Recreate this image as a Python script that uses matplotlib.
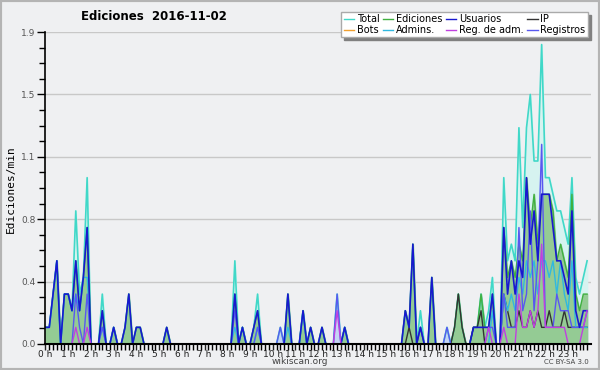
import numpy as np
import matplotlib
matplotlib.use("Agg")
import matplotlib.pyplot as plt
from matplotlib.patches import Rectangle

# ediciones por minuto, tramos de 10 minutos (12 valores = 2 horas por fila)
usuarios = [
    0.1, 0.1, 0.3, 0.5, 0, 0.3, 0.3, 0.2, 0.5, 0.2, 0.4, 0.7,
    0, 0, 0, 0.2, 0, 0, 0.1, 0, 0, 0.1, 0.3, 0,
    0.1, 0.1, 0, 0, 0, 0, 0, 0, 0.1, 0, 0, 0,
    0, 0, 0, 0, 0, 0, 0, 0, 0, 0, 0, 0,
    0, 0, 0.3, 0, 0.1, 0, 0, 0.1, 0.2, 0, 0, 0,
    0, 0, 0, 0, 0.3, 0, 0, 0, 0.2, 0, 0.1, 0,
    0, 0.1, 0, 0, 0, 0, 0, 0.1, 0, 0, 0, 0,
    0, 0, 0, 0, 0, 0, 0, 0, 0, 0, 0, 0.2,
    0.1, 0.6, 0, 0.1, 0, 0, 0.4, 0, 0, 0, 0, 0,
    0, 0, 0, 0, 0, 0.1, 0.1, 0.1, 0.1, 0.1, 0.3, 0,
    0, 0.7, 0.3, 0.5, 0.3, 0.5, 0.4, 1.0, 0.6, 0.8, 0.5, 0.9,
    0.9, 0.9, 0.7, 0.5, 0.5, 0.4, 0.3, 0.8, 0.2, 0.1, 0.2, 0.2,
]
ip = [
    0, 0, 0, 0, 0, 0, 0, 0, 0, 0, 0, 0,
    0, 0, 0, 0, 0, 0, 0, 0, 0, 0, 0, 0,
    0, 0, 0, 0, 0, 0, 0, 0, 0, 0, 0, 0,
    0, 0, 0, 0, 0, 0, 0, 0, 0, 0, 0, 0,
    0, 0, 0, 0, 0, 0, 0, 0, 0, 0, 0, 0,
    0, 0, 0, 0, 0, 0, 0, 0, 0, 0, 0, 0,
    0, 0, 0, 0, 0, 0, 0, 0, 0, 0, 0, 0,
    0, 0, 0, 0, 0, 0, 0, 0, 0, 0, 0, 0,
    0.1, 0, 0, 0, 0, 0, 0, 0, 0, 0, 0, 0,
    0.1, 0.3, 0.1, 0, 0, 0.1, 0.1, 0.2, 0, 0, 0, 0,
    0, 0.3, 0.2, 0.1, 0.1, 0.2, 0.1, 0.1, 0.2, 0.1, 0.2, 0.1,
    0.1, 0.2, 0.1, 0.1, 0.1, 0.2, 0.1, 0.1, 0.1, 0.1, 0.1, 0.1,
]
ediciones = [
    0.1, 0.1, 0.3, 0.5, 0, 0.3, 0.3, 0.2, 0.5, 0.2, 0.4, 0.7,
    0, 0, 0, 0.2, 0, 0, 0.1, 0, 0, 0.1, 0.3, 0,
    0.1, 0.1, 0, 0, 0, 0, 0, 0, 0.1, 0, 0, 0,
    0, 0, 0, 0, 0, 0, 0, 0, 0, 0, 0, 0,
    0, 0, 0.3, 0, 0.1, 0, 0, 0.1, 0.2, 0, 0, 0,
    0, 0, 0, 0, 0.3, 0, 0, 0, 0.2, 0, 0.1, 0,
    0, 0.1, 0, 0, 0, 0, 0, 0.1, 0, 0, 0, 0,
    0, 0, 0, 0, 0, 0, 0, 0, 0, 0, 0, 0.2,
    0.1, 0.6, 0, 0.1, 0, 0, 0.4, 0, 0, 0, 0, 0,
    0.1, 0.3, 0.1, 0, 0, 0.1, 0.1, 0.3, 0.1, 0.1, 0.3, 0,
    0, 0.7, 0.4, 0.5, 0.4, 0.6, 0.5, 1.0, 0.7, 0.9, 0.6, 0.9,
    0.9, 0.9, 0.8, 0.5, 0.6, 0.5, 0.4, 0.9, 0.3, 0.2, 0.3, 0.3,
]
registros = [
    0, 0, 0, 0, 0, 0, 0, 0, 0.3, 0.1, 0, 0.3,
    0, 0, 0, 0.1, 0, 0, 0, 0, 0, 0, 0, 0,
    0, 0, 0, 0, 0, 0, 0, 0, 0, 0, 0, 0,
    0, 0, 0, 0, 0, 0, 0, 0, 0, 0, 0, 0,
    0, 0, 0.2, 0, 0, 0, 0, 0, 0.1, 0, 0, 0,
    0, 0, 0.1, 0, 0, 0, 0, 0, 0, 0, 0, 0,
    0, 0, 0, 0, 0, 0.3, 0, 0, 0, 0, 0, 0,
    0, 0, 0, 0, 0, 0, 0, 0, 0, 0, 0, 0,
    0, 0, 0, 0.1, 0, 0, 0, 0, 0, 0, 0.1, 0,
    0, 0, 0, 0, 0, 0, 0, 0, 0, 0.1, 0.1, 0,
    0, 0.3, 0.1, 0.1, 0.1, 0.7, 0.2, 0.3, 0.8, 0.2, 0.5, 1.2,
    0.1, 0.1, 0.1, 0.3, 0.2, 0.2, 0.2, 0.1, 0.1, 0.1, 0.1, 0.2,
]
total = [
    0.1, 0.1, 0.3, 0.5, 0, 0.3, 0.3, 0.2, 0.8, 0.3, 0.4, 1.0,
    0, 0, 0, 0.3, 0, 0, 0.1, 0, 0, 0.1, 0.3, 0,
    0.1, 0.1, 0, 0, 0, 0, 0, 0, 0.1, 0, 0, 0,
    0, 0, 0, 0, 0, 0, 0, 0, 0, 0, 0, 0,
    0, 0, 0.5, 0, 0.1, 0, 0, 0.1, 0.3, 0, 0, 0,
    0, 0, 0.1, 0, 0.3, 0, 0, 0, 0.2, 0, 0.1, 0,
    0, 0.1, 0, 0, 0, 0.3, 0, 0.1, 0, 0, 0, 0,
    0, 0, 0, 0, 0, 0, 0, 0, 0, 0, 0, 0.2,
    0.1, 0.6, 0, 0.2, 0, 0, 0.4, 0, 0, 0, 0.1, 0,
    0.1, 0.3, 0.1, 0, 0, 0.1, 0.1, 0.3, 0.1, 0.2, 0.4, 0,
    0, 1.0, 0.5, 0.6, 0.5, 1.3, 0.7, 1.3, 1.5, 1.1, 1.1, 1.8,
    1.0, 1.0, 0.9, 0.8, 0.8, 0.7, 0.6, 1.0, 0.4, 0.3, 0.4, 0.5,
]
admins = [
    0.1, 0.1, 0.3, 0.5, 0, 0.3, 0.3, 0.2, 0.3, 0.2, 0.4, 0.4,
    0, 0, 0, 0.1, 0, 0, 0.1, 0, 0, 0, 0, 0,
    0, 0, 0, 0, 0, 0, 0, 0, 0, 0, 0, 0,
    0, 0, 0, 0, 0, 0, 0, 0, 0, 0, 0, 0,
    0, 0, 0.1, 0, 0.1, 0, 0, 0, 0.1, 0, 0, 0,
    0, 0, 0, 0, 0.1, 0, 0, 0, 0.2, 0, 0, 0,
    0, 0, 0, 0, 0, 0, 0, 0.1, 0, 0, 0, 0,
    0, 0, 0, 0, 0, 0, 0, 0, 0, 0, 0, 0,
    0, 0, 0, 0, 0, 0, 0, 0, 0, 0, 0, 0,
    0, 0, 0, 0, 0, 0, 0, 0, 0, 0, 0.2, 0,
    0, 0.3, 0.2, 0.3, 0.2, 0.4, 0.3, 0.5, 0.4, 0.5, 0.3, 0.5,
    0.5, 0.4, 0.5, 0.3, 0.5, 0.3, 0.2, 0.5, 0.1, 0.1, 0.1, 0.1,
]
reg_adm = [
    0, 0, 0, 0, 0, 0, 0, 0, 0.1, 0, 0, 0.1,
    0, 0, 0, 0, 0, 0, 0, 0, 0, 0, 0, 0,
    0, 0, 0, 0, 0, 0, 0, 0, 0, 0, 0, 0,
    0, 0, 0, 0, 0, 0, 0, 0, 0, 0, 0, 0,
    0, 0, 0, 0, 0, 0, 0, 0, 0, 0, 0, 0,
    0, 0, 0, 0, 0, 0, 0, 0, 0, 0, 0, 0,
    0, 0, 0, 0, 0, 0.2, 0, 0, 0, 0, 0, 0,
    0, 0, 0, 0, 0, 0, 0, 0, 0, 0, 0, 0,
    0, 0, 0, 0, 0, 0, 0, 0, 0, 0, 0, 0,
    0, 0, 0, 0, 0, 0, 0, 0, 0, 0.1, 0, 0,
    0, 0.1, 0, 0, 0, 0.3, 0.1, 0.1, 0.2, 0.1, 0.2, 0.6,
    0.1, 0.1, 0.1, 0.1, 0.1, 0.1, 0, 0, 0, 0, 0.1, 0.2,
]
bots = [0] * 144

horas = np.arange(144) / 6.0
etiquetas_x = ["%d h" % h for h in range(24)]
ticks_y = [0, 0.375, 0.75, 1.125, 1.5, 1.875]
etiquetas_y = ["0.0", "0.4", "0.8", "1.1", "1.5", "1.9"]

fondo = "#eff0f2"
fig = plt.figure(figsize=(6, 3.7), dpi=100, facecolor=fondo)
ax = fig.add_axes([0.0758, 0.0703, 0.909, 0.843])
ax.set_facecolor(fondo)

c_total = "#40d8c8"
c_edic = "#40b040"
c_usu = "#1818d0"
c_ip = "#333333"
c_bots = "#f0a030"
c_adm = "#30b8e0"
c_regadm = "#c040e0"
c_reg = "#5858f0"

ax.fill_between(horas, total, color="#d6f3f0", zorder=1)
ax.fill_between(horas, registros, color="#c4d4f4", zorder=1.5)
ax.fill_between(horas, ediciones, color="#94cb94", zorder=2)
ax.plot(horas, total, color=c_total, lw=1.2, zorder=3)
ax.plot(horas, ediciones, color=c_edic, lw=1.0, zorder=3.1)
ax.plot(horas, ip, color=c_ip, lw=1.0, zorder=3.2)
ax.plot(horas, admins, color=c_adm, lw=1.0, zorder=3.3)
ax.plot(horas, registros, color=c_reg, lw=1.0, zorder=3.4)
ax.plot(horas, usuarios, color=c_usu, lw=1.2, zorder=3.5)
ax.plot(horas, reg_adm, color=c_regadm, lw=1.0, zorder=3.6)

ax.set_xlim(0, 24)
ax.set_ylim(0, 1.875)
ax.set_xticks(range(24))
ax.set_xticklabels(etiquetas_x)
ax.set_xticks(np.arange(0, 24, 1 / 6.0), minor=True)
ax.set_yticks(ticks_y)
ax.set_yticklabels(etiquetas_y)
ax.set_yticks(np.arange(0, 1.876, 0.09375), minor=True)
ax.grid(axis="y", color="#c8c8c8", lw=1)
ax.set_axisbelow(True)
for s in ["top", "right"]:
    ax.spines[s].set_visible(False)
ax.spines["left"].set_linewidth(1.2)
ax.spines["bottom"].set_linewidth(1.5)
ax.spines["left"].set_zorder(5)
ax.spines["bottom"].set_zorder(5)
ax.tick_params(axis="x", which="major", length=4, width=1, labelsize=6.5, pad=0, colors="#222222")
ax.tick_params(axis="x", which="minor", length=4, width=1)
ax.tick_params(axis="y", which="major", length=6, width=1, labelsize=6.5, pad=1, labelcolor="#555555")
ax.tick_params(axis="y", which="minor", length=4, width=1)

nombres = ["Total", "Bots", "Ediciones", "Admins.", "Usuarios", "Reg. de adm.", "IP", "Registros"]
colores = [c_total, c_bots, c_edic, c_adm, c_usu, c_regadm, c_ip, c_reg]
handles = [plt.Line2D([], [], color=c, lw=1) for c in colores]
leg = ax.legend(handles, nombres, ncol=4, loc="upper right",
                bbox_to_anchor=(588 / 600, 1 - 12 / 370), bbox_transform=fig.transFigure,
                fontsize=7, handlelength=1.1, handletextpad=0.3, columnspacing=0.3,
                labelspacing=0.05, borderpad=0.25, borderaxespad=0, fancybox=False,
                framealpha=1, edgecolor="#aaaaaa",
                shadow={"facecolor": "#808080", "edgecolor": "#808080", "alpha": 1})
leg.set_zorder(10)

fig.text(154 / 600, 1 - 16 / 370, "Ediciones  2016-11-02", ha="center", va="center",
         fontsize=8.5, fontweight="bold")
fig.text(0.018, 0.49, "Ediciones/min", rotation=90, ha="center", va="center",
         fontsize=8, family="DejaVu Sans Mono")
fig.text(0.5, 1 - 362 / 370, "wikiscan.org", ha="center", va="center", fontsize=6.5, color="#444444")
fig.text(0.982, 1 - 362 / 370, "CC BY-SA 3.0", ha="right", va="center", fontsize=5, color="#444444")

fig.patches.append(Rectangle((0, 0), 1, 1, transform=fig.transFigure, fill=False,
                             edgecolor="#b4b4b4", lw=3))

fig.savefig("out.png", dpi=100, facecolor=fondo)
